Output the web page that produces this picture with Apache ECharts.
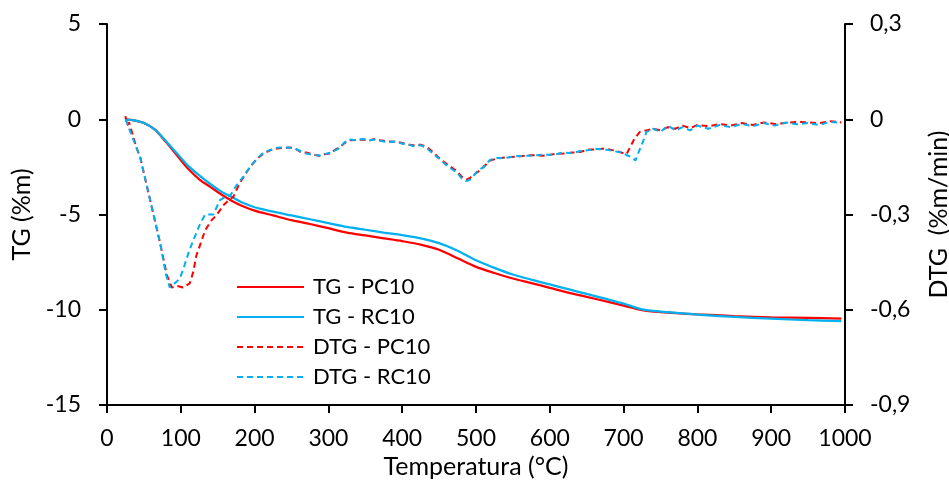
<!DOCTYPE html>
<html>
<head>
<meta charset="utf-8">
<script src="https://cdn.jsdelivr.net/npm/echarts@6/dist/echarts.min.js"></script>
<style>
html,body{margin:0;padding:0;background:#fff;}
#chart{width:949px;height:481px;}
</style>
</head>
<body>
<div id="chart"></div>
<script>
// TG curves (left axis, %m)
const tgTemps = [25,35,50,65,80,95,110,125,140,155,170,185,200,225,250,275,300,325,350,375,400,425,450,475,500,525,550,575,600,625,650,675,700,725,750,800,850,900,950,995];
const tgPC10 = [0,-0.05,-0.2,-0.55,-1.2,-1.9,-2.6,-3.15,-3.55,-3.95,-4.3,-4.58,-4.8,-5.05,-5.3,-5.5,-5.72,-5.95,-6.1,-6.25,-6.4,-6.58,-6.85,-7.3,-7.75,-8.07,-8.36,-8.6,-8.85,-9.1,-9.32,-9.55,-9.78,-10.02,-10.12,-10.24,-10.33,-10.4,-10.43,-10.46];
const tgRC10 = [0,-0.05,-0.2,-0.55,-1.15,-1.8,-2.45,-2.95,-3.4,-3.8,-4.1,-4.4,-4.62,-4.85,-5.05,-5.25,-5.45,-5.65,-5.8,-5.95,-6.08,-6.25,-6.5,-6.9,-7.4,-7.8,-8.15,-8.42,-8.67,-8.92,-9.17,-9.42,-9.68,-9.98,-10.1,-10.25,-10.38,-10.47,-10.55,-10.6];

// DTG curves (right axis, %m/min)
const dtgTempsPC10 = [25,27,30,35,40,45,51,57,63,72,81,88,95,103,112,117,121,127,133,141,149,158,165,171,176,180,187,194,203,212,221,230,240,248,255,262,270,278,289,295,302,310,316,322,329,338,347,355,362,370,380,392,400,408,415,425,433,440,451,460,469,475,480,487,492,496,503,510,515,519,528,540,555,573,590,605,618,630,641,654,663,675,686,697,704,709,715,722,731,740,750,760,770,780,790,800,815,830,845,860,875,890,905,920,935,950,965,980,995];
const dtgPC10 = [0.01,-0.02,-0.01,-0.05,-0.09,-0.12,-0.18,-0.24,-0.30,-0.39,-0.49,-0.53,-0.525,-0.53,-0.517,-0.48,-0.43,-0.39,-0.35,-0.32,-0.30,-0.27,-0.255,-0.245,-0.22,-0.20,-0.175,-0.15,-0.125,-0.108,-0.098,-0.092,-0.09,-0.089,-0.092,-0.103,-0.105,-0.11,-0.116,-0.11,-0.108,-0.095,-0.087,-0.075,-0.066,-0.065,-0.064,-0.068,-0.062,-0.066,-0.07,-0.071,-0.075,-0.08,-0.082,-0.08,-0.087,-0.1,-0.124,-0.14,-0.155,-0.165,-0.18,-0.19,-0.185,-0.176,-0.165,-0.15,-0.14,-0.13,-0.124,-0.12,-0.118,-0.113,-0.115,-0.11,-0.108,-0.105,-0.103,-0.095,-0.095,-0.092,-0.098,-0.105,-0.11,-0.087,-0.06,-0.04,-0.035,-0.03,-0.035,-0.025,-0.03,-0.02,-0.028,-0.018,-0.022,-0.015,-0.02,-0.012,-0.018,-0.01,-0.015,-0.012,-0.008,-0.01,-0.012,-0.006,-0.01];
const dtgTempsRC10 = [25,27,30,35,40,45,51,57,63,72,80,85,90,95,99,105,112,119,126,133,140,144,153,160,167,175,185,194,203,212,221,230,240,248,255,262,270,278,289,295,302,310,316,322,329,338,347,355,362,370,380,392,400,408,415,425,433,440,451,460,469,475,480,487,492,496,503,510,515,519,528,540,555,573,590,605,618,630,641,654,663,675,686,697,706,712,716,721,727,731,740,750,760,770,780,790,800,815,830,845,860,875,890,905,920,935,950,965,980,995];
const dtgRC10 = [0,-0.01,-0.03,-0.06,-0.09,-0.12,-0.18,-0.24,-0.30,-0.39,-0.49,-0.53,-0.52,-0.51,-0.50,-0.46,-0.41,-0.37,-0.33,-0.30,-0.30,-0.30,-0.255,-0.245,-0.24,-0.21,-0.18,-0.15,-0.125,-0.105,-0.097,-0.09,-0.088,-0.09,-0.093,-0.1,-0.108,-0.112,-0.114,-0.11,-0.105,-0.097,-0.09,-0.072,-0.064,-0.066,-0.062,-0.066,-0.064,-0.068,-0.072,-0.07,-0.077,-0.078,-0.085,-0.082,-0.09,-0.105,-0.126,-0.145,-0.16,-0.17,-0.185,-0.195,-0.19,-0.18,-0.16,-0.152,-0.138,-0.128,-0.122,-0.122,-0.116,-0.115,-0.112,-0.112,-0.105,-0.107,-0.1,-0.097,-0.093,-0.095,-0.1,-0.105,-0.115,-0.12,-0.13,-0.1,-0.066,-0.04,-0.03,-0.04,-0.02,-0.035,-0.025,-0.035,-0.02,-0.03,-0.018,-0.025,-0.015,-0.022,-0.012,-0.02,-0.01,-0.016,-0.012,-0.018,-0.008,-0.012];

const xTicks = {min:0, max:1000, interval:100};
const tgTicks = {min:-15, max:5, interval:5};
const dtgTicks = {min:-0.9, max:0.3, interval:0.3};

function pairs(xs, ys){ return xs.map((x,i)=>[x, ys[i]]); }

const FONT = 'Lato';
const RED = '#FF0000', BLUE = '#00B0F0';
const axisLineStyle = {color:'#000', width:2};
const nameStyle = {color:'#000', fontSize:25, fontFamily:FONT};

const chart = echarts.init(document.getElementById('chart'), null, {renderer:'canvas'});
chart.setOption({
  backgroundColor:'#fff',
  animation:false,
  textStyle:{fontFamily:FONT},
  grid:{left:107, right:104, top:24, bottom:76, containLabel:false, outerBoundsMode:'none'},
  xAxis:{
    type:'value', min:xTicks.min, max:xTicks.max, interval:xTicks.interval,
    name:'Temperatura (°C)', nameLocation:'middle', nameGap:46,
    nameTextStyle:nameStyle,
    axisLine:{show:true, onZero:false, lineStyle:axisLineStyle},
    axisTick:{show:true, length:8, lineStyle:axisLineStyle},
    axisLabel:{color:'#000', fontSize:23, margin:22, fontFamily:FONT, formatter:v=>String(v)},
    splitLine:{show:false}
  },
  yAxis:[{
    type:'value', position:'left', min:tgTicks.min, max:tgTicks.max, interval:tgTicks.interval,
    name:'TG (%m)', nameLocation:'middle', nameGap:70, nameRotate:90,
    nameTextStyle:nameStyle,
    axisLine:{show:true, onZero:false, lineStyle:axisLineStyle},
    axisTick:{show:true, length:8, lineStyle:axisLineStyle},
    axisLabel:{color:'#000', fontSize:23, margin:26, fontFamily:FONT, formatter:v=>String(v)},
    splitLine:{show:false}
  },{
    type:'value', position:'right', min:dtgTicks.min, max:dtgTicks.max, interval:dtgTicks.interval,
    name:'DTG  (%m/min)', nameLocation:'middle', nameGap:81, nameRotate:90,
    nameTextStyle:nameStyle,
    axisLine:{show:true, onZero:false, lineStyle:axisLineStyle},
    axisTick:{show:true, length:8, lineStyle:axisLineStyle},
    axisLabel:{color:'#000', fontSize:23, margin:25, fontFamily:FONT,
      formatter:v=>{ const r=Math.round(v*10)/10; return r===0?'0':r.toFixed(1).replace('.',','); }},
    splitLine:{show:false}
  }],
  legend:{
    orient:'vertical', left:236, top:276, padding:0, itemWidth:67, itemHeight:12, itemGap:8,
    itemStyle:{opacity:0},
    textStyle:{color:'#000', fontSize:22, fontFamily:FONT, padding:[0,0,0,4]},
    data:['TG - PC10','TG - RC10','DTG - PC10','DTG - RC10']
  },
  series:[
    {name:'TG - PC10', type:'line', yAxisIndex:0, data:pairs(tgTemps,tgPC10), symbol:'none', smooth:0.3,
      lineStyle:{color:RED, width:2.25}, itemStyle:{color:RED}},
    {name:'TG - RC10', type:'line', yAxisIndex:0, data:pairs(tgTemps,tgRC10), symbol:'none', smooth:0.3,
      lineStyle:{color:BLUE, width:2.25}, itemStyle:{color:BLUE}},
    {name:'DTG - PC10', type:'line', yAxisIndex:1, data:pairs(dtgTempsPC10,dtgPC10), symbol:'none',
      lineStyle:{color:RED, width:2, type:[6,4]}, itemStyle:{color:RED}},
    {name:'DTG - RC10', type:'line', yAxisIndex:1, data:pairs(dtgTempsRC10,dtgRC10), symbol:'none',
      lineStyle:{color:BLUE, width:2, type:[6,4]}, itemStyle:{color:BLUE}}
  ]
});
</script>
</body>
</html>
